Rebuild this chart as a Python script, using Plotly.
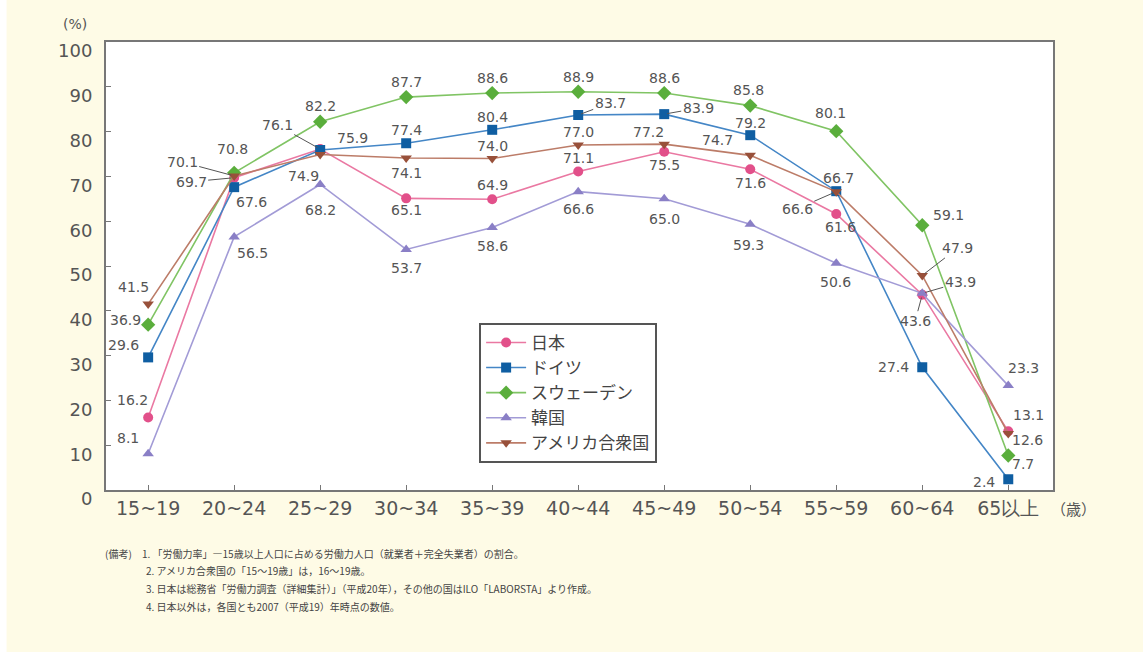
import plotly.graph_objects as go

# Age groups on the x axis
age_groups = ["15~19", "20~24", "25~29", "30~34", "35~39", "40~44",
              "45~49", "50~54", "55~59", "60~64", "65以上"]

# Labour force participation rate (%) by country
japan = [16.2, 69.7, 76.1, 65.1, 64.9, 71.1, 75.5, 71.6, 61.6, 43.6, 13.1]
germany = [29.6, 67.6, 75.9, 77.4, 80.4, 83.7, 83.9, 79.2, 66.7, 27.4, 2.4]
sweden = [36.9, 70.8, 82.2, 87.7, 88.6, 88.9, 88.6, 85.8, 80.1, 59.1, 7.7]
korea = [8.1, 56.5, 68.2, 53.7, 58.6, 66.6, 65.0, 59.3, 50.6, 43.9, 23.3]
usa = [41.5, 70.1, 74.9, 74.1, 74.0, 77.0, 77.2, 74.7, 66.6, 47.9, 12.6]

y_ticks = [0, 10, 20, 30, 40, 50, 60, 70, 80, 90, 100]

notes = [
    "1. 「労働力率」―15歳以上人口に占める労働力人口（就業者＋完全失業者）の割合。",
    "2. アメリカ合衆国の「15～19歳」は，16～19歳。",
    "3. 日本は総務省「労働力調査（詳細集計）」（平成20年），その他の国はILO「LABORSTA」より作成。",
    "4. 日本以外は，各国とも2007（平成19）年時点の数値。",
]

# Series styling: name, values, line colour, marker colour, symbol
series = [
    ("日本", japan, "#ea78a2", "#e2508a", "circle"),
    ("ドイツ", germany, "#4486c6", "#0f5ea2", "square"),
    ("スウェーデン", sweden, "#80c464", "#5aae3c", "diamond"),
    ("韓国", korea, "#a29bd6", "#8a7fc6", "triangle-up"),
    ("アメリカ合衆国", usa, "#bc7c68", "#98503a", "triangle-down"),
]

# Value-label placement per point: (dx, dy, leader) in pixels, dy downward
label_pos = {
    "日本": [(-16, -17, 0), (-43, 4, 1), (-43, -24, 1), (0, 12, 0), (0, -14, 0),
           (0, -13, 0), (0, 13, 0), (0, 14, 0), (4, 13, 0), (-7, 26, 1), (20, -16, 0)],
    "ドイツ": [(-25, -12, 0), (17, 15, 0), (32, -12, 0), (0, -13, 0), (0, -13, 0),
            (32, -12, 1), (34, -6, 1), (0, -12, 0), (2, -13, 0), (-29, 0, 0), (-24, 3, 0)],
    "スウェーデン": [(-23, -5, 0), (-2, -24, 0), (0, -16, 0), (0, -15, 0), (0, -15, 0),
                (0, -15, 0), (0, -15, 0), (-2, -16, 0), (-6, -18, 0), (26, -10, 0), (15, 8, 0)],
    "韓国": [(-20, -16, 0), (18, 16, 0), (0, 26, 0), (0, 19, 0), (0, 19, 0),
           (0, 17, 0), (0, 20, 0), (-2, 21, 0), (-1, 19, 0), (38, -11, 1), (15, -18, 0)],
    "アメリカ合衆国": [(-15, -17, 0), (-52, -14, 1), (-17, 22, 0), (0, 15, 0), (0, -12, 0),
                (0, -13, 0), (-16, -12, 0), (-33, -15, 0), (-39, 17, 1), (35, -27, 1), (19, 6, 0)],
}

label_font = dict(family="DejaVu Sans", size=14, color="#555555")

fig = go.Figure()
annotations = []

for name, vals, lcol, mcol, sym in series:
    fig.add_trace(go.Scatter(
        x=age_groups, y=vals, name=name, mode="lines+markers",
        line=dict(color=lcol, width=1.6),
        marker=dict(color=mcol, symbol=sym, size=10 if sym != "diamond" else 11,
                    line=dict(width=0)),
    ))
    for cat, v, (dx, dy, leader) in zip(age_groups, vals, label_pos[name]):
        txt = f"{v:.1f}"
        if leader:
            annotations.append(dict(
                x=cat, y=v, xref="x", yref="y", text=txt, font=label_font,
                showarrow=True, arrowhead=0, arrowwidth=1, arrowcolor="#555555",
                ax=dx, ay=dy, standoff=3,
            ))
        else:
            annotations.append(dict(
                x=cat, y=v, xref="x", yref="y", text=txt, font=label_font,
                showarrow=False, xshift=dx, yshift=-dy,
            ))

# Axis unit labels
annotations.append(dict(x=-0.033, y=1.041, xref="paper", yref="paper", text="(%)",
                        showarrow=False, xanchor="center", yanchor="middle",
                        font=dict(family="DejaVu Sans", size=14, color="#555555")))
annotations.append(dict(x=1.022, y=-0.042, xref="paper", yref="paper", text="（歳）",
                        showarrow=False, xanchor="center", yanchor="middle",
                        font=dict(family="Noto Sans CJK JP", size=15, color="#555555")))

# Footnotes
note_font = dict(family="Noto Sans CJK JP", size=10, color="#444444")
annotations.append(dict(x=-0.003, y=-0.141, xref="paper", yref="paper", text="(備考)",
                        showarrow=False, xanchor="left", yanchor="middle", font=note_font))
for i, line in enumerate(notes):
    annotations.append(dict(x=0.036 if i == 0 else 0.04, y=-0.141 - i * 0.0395,
                            xref="paper", yref="paper",
                            text=line, showarrow=False, xanchor="left", yanchor="middle",
                            font=note_font))

fig.update_layout(
    width=1143, height=652,
    margin=dict(l=106, r=90, t=42, b=162),
    paper_bgcolor="#fefbe6",
    plot_bgcolor="#ffffff",
    showlegend=True,
    legend=dict(
        x=0.394, y=0.373, xanchor="left", yanchor="top",
        bgcolor="#ffffff", bordercolor="#555555", borderwidth=2,
        font=dict(family="Noto Sans CJK JP", size=17, color="#444444"),
        tracegroupgap=0, itemwidth=40,
    ),
    annotations=annotations,
    shapes=[dict(type="rect", xref="paper", yref="paper",
                 x0=-0.12, x1=-0.105, y0=-0.4, y1=1.1,
                 fillcolor="#ffffff", line=dict(width=0), layer="below")],
)

fig.update_xaxes(
    type="category", range=[-0.49, 10.52],
    showline=True, linecolor="#777777", linewidth=2, mirror=True,
    ticks="inside", ticklen=5, tickcolor="#777777",
    showgrid=False, zeroline=False,
    tickfont=dict(family="DejaVu Sans", size=19, color="#555555"),
)
fig.update_yaxes(
    range=[0, 100], tickvals=y_ticks, ticktext=[str(t) for t in y_ticks],
    showline=True, linecolor="#777777", linewidth=2, mirror=True,
    ticks="inside", ticklen=5, tickcolor="#777777",
    showgrid=False, zeroline=False,
    ticklabelshift=9, ticklabelstandoff=8,
    tickfont=dict(family="DejaVu Sans", size=18, color="#555555"),
)

fig.write_html("out.html")
